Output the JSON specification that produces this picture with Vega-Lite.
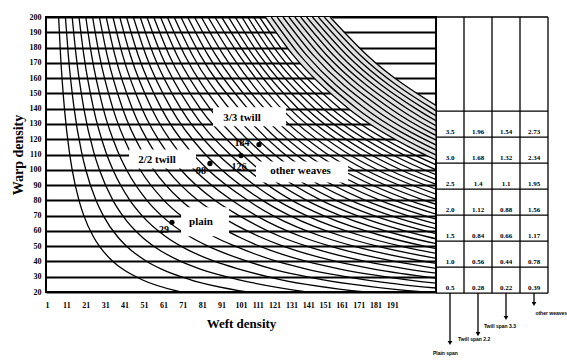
{
"$schema": "https://vega.github.io/schema/vega-lite/v6.json",
"background": "white",
"padding": {"left": 10, "top": 12, "right": 0, "bottom": 0},
"spacing": 0,
"bounds": "flush",
"config": {"view": {"stroke": null}, "font": "Liberation Serif"},
"datasets": {
"curves": [
{"m":2,"x":7,"y":200},{"m":2,"x":8,"y":175},{"m":2,"x":10,"y":140},{"m":2,"x":12.5,"y":112},{"m":2,"x":14,"y":100},{"m":2,"x":17.5,"y":80},{"m":2,"x":20,"y":70},{"m":2,"x":25,"y":56},{"m":2,"x":28,"y":50},{"m":2,"x":35,"y":40},{"m":2,"x":40,"y":35},{"m":2,"x":50,"y":28},{"m":2,"x":70,"y":20},
{"m":3,"x":10.5,"y":200},{"m":3,"x":12,"y":175},{"m":3,"x":15,"y":140},{"m":3,"x":18.75,"y":112},{"m":3,"x":21,"y":100},{"m":3,"x":26.25,"y":80},{"m":3,"x":30,"y":70},{"m":3,"x":37.5,"y":56},{"m":3,"x":42,"y":50},{"m":3,"x":52.5,"y":40},{"m":3,"x":60,"y":35},{"m":3,"x":75,"y":28},{"m":3,"x":105,"y":20},
{"m":4,"x":14,"y":200},{"m":4,"x":16,"y":175},{"m":4,"x":20,"y":140},{"m":4,"x":25,"y":112},{"m":4,"x":28,"y":100},{"m":4,"x":35,"y":80},{"m":4,"x":40,"y":70},{"m":4,"x":50,"y":56},{"m":4,"x":56,"y":50},{"m":4,"x":70,"y":40},{"m":4,"x":80,"y":35},{"m":4,"x":100,"y":28},{"m":4,"x":140,"y":20},
{"m":5,"x":17.5,"y":200},{"m":5,"x":20,"y":175},{"m":5,"x":25,"y":140},{"m":5,"x":31.25,"y":112},{"m":5,"x":35,"y":100},{"m":5,"x":43.75,"y":80},{"m":5,"x":50,"y":70},{"m":5,"x":62.5,"y":56},{"m":5,"x":70,"y":50},{"m":5,"x":87.5,"y":40},{"m":5,"x":100,"y":35},{"m":5,"x":125,"y":28},{"m":5,"x":175,"y":20},
{"m":6,"x":21,"y":200},{"m":6,"x":24,"y":175},{"m":6,"x":30,"y":140},{"m":6,"x":37.5,"y":112},{"m":6,"x":42,"y":100},{"m":6,"x":52.5,"y":80},{"m":6,"x":60,"y":70},{"m":6,"x":75,"y":56},{"m":6,"x":84,"y":50},{"m":6,"x":105,"y":40},{"m":6,"x":120,"y":35},{"m":6,"x":150,"y":28},{"m":6,"x":210,"y":20},
{"m":7,"x":24.5,"y":200},{"m":7,"x":28,"y":175},{"m":7,"x":35,"y":140},{"m":7,"x":43.75,"y":112},{"m":7,"x":49,"y":100},{"m":7,"x":61.25,"y":80},{"m":7,"x":70,"y":70},{"m":7,"x":87.5,"y":56},{"m":7,"x":98,"y":50},{"m":7,"x":122.5,"y":40},{"m":7,"x":140,"y":35},{"m":7,"x":175,"y":28},{"m":7,"x":245,"y":20},
{"m":8,"x":28,"y":200},{"m":8,"x":32,"y":175},{"m":8,"x":40,"y":140},{"m":8,"x":50,"y":112},{"m":8,"x":56,"y":100},{"m":8,"x":70,"y":80},{"m":8,"x":80,"y":70},{"m":8,"x":100,"y":56},{"m":8,"x":112,"y":50},{"m":8,"x":140,"y":40},{"m":8,"x":160,"y":35},{"m":8,"x":200,"y":28},{"m":8,"x":280,"y":20},
{"m":9,"x":31.5,"y":200},{"m":9,"x":36,"y":175},{"m":9,"x":45,"y":140},{"m":9,"x":56.25,"y":112},{"m":9,"x":63,"y":100},{"m":9,"x":78.75,"y":80},{"m":9,"x":90,"y":70},{"m":9,"x":112.5,"y":56},{"m":9,"x":126,"y":50},{"m":9,"x":157.5,"y":40},{"m":9,"x":180,"y":35},{"m":9,"x":225,"y":28},
{"m":10,"x":35,"y":200},{"m":10,"x":40,"y":175},{"m":10,"x":50,"y":140},{"m":10,"x":62.5,"y":112},{"m":10,"x":70,"y":100},{"m":10,"x":87.5,"y":80},{"m":10,"x":100,"y":70},{"m":10,"x":125,"y":56},{"m":10,"x":140,"y":50},{"m":10,"x":175,"y":40},{"m":10,"x":200,"y":35},{"m":10,"x":250,"y":28},
{"m":11,"x":38.5,"y":200},{"m":11,"x":44,"y":175},{"m":11,"x":55,"y":140},{"m":11,"x":68.75,"y":112},{"m":11,"x":77,"y":100},{"m":11,"x":96.25,"y":80},{"m":11,"x":110,"y":70},{"m":11,"x":137.5,"y":56},{"m":11,"x":154,"y":50},{"m":11,"x":192.5,"y":40},{"m":11,"x":220,"y":35},
{"m":12,"x":42,"y":200},{"m":12,"x":48,"y":175},{"m":12,"x":60,"y":140},{"m":12,"x":75,"y":112},{"m":12,"x":84,"y":100},{"m":12,"x":105,"y":80},{"m":12,"x":120,"y":70},{"m":12,"x":150,"y":56},{"m":12,"x":168,"y":50},{"m":12,"x":210,"y":40},{"m":12,"x":240,"y":35},
{"m":13,"x":45.5,"y":200},{"m":13,"x":52,"y":175},{"m":13,"x":65,"y":140},{"m":13,"x":81.25,"y":112},{"m":13,"x":91,"y":100},{"m":13,"x":113.75,"y":80},{"m":13,"x":130,"y":70},{"m":13,"x":162.5,"y":56},{"m":13,"x":182,"y":50},{"m":13,"x":227.5,"y":40},
{"m":14,"x":49,"y":200},{"m":14,"x":56,"y":175},{"m":14,"x":70,"y":140},{"m":14,"x":87.5,"y":112},{"m":14,"x":98,"y":100},{"m":14,"x":122.5,"y":80},{"m":14,"x":140,"y":70},{"m":14,"x":175,"y":56},{"m":14,"x":196,"y":50},{"m":14,"x":245,"y":40},
{"m":15,"x":52.5,"y":200},{"m":15,"x":60,"y":175},{"m":15,"x":75,"y":140},{"m":15,"x":93.75,"y":112},{"m":15,"x":105,"y":100},{"m":15,"x":131.25,"y":80},{"m":15,"x":150,"y":70},{"m":15,"x":187.5,"y":56},{"m":15,"x":210,"y":50},{"m":15,"x":262.5,"y":40},
{"m":16,"x":56,"y":200},{"m":16,"x":64,"y":175},{"m":16,"x":80,"y":140},{"m":16,"x":100,"y":112},{"m":16,"x":112,"y":100},{"m":16,"x":140,"y":80},{"m":16,"x":160,"y":70},{"m":16,"x":200,"y":56},{"m":16,"x":224,"y":50},
{"m":17,"x":59.5,"y":200},{"m":17,"x":68,"y":175},{"m":17,"x":85,"y":140},{"m":17,"x":106.25,"y":112},{"m":17,"x":119,"y":100},{"m":17,"x":148.75,"y":80},{"m":17,"x":170,"y":70},{"m":17,"x":212.5,"y":56},{"m":17,"x":238,"y":50},
{"m":18,"x":63,"y":200},{"m":18,"x":72,"y":175},{"m":18,"x":90,"y":140},{"m":18,"x":112.5,"y":112},{"m":18,"x":126,"y":100},{"m":18,"x":157.5,"y":80},{"m":18,"x":180,"y":70},{"m":18,"x":225,"y":56},
{"m":19,"x":66.5,"y":200},{"m":19,"x":76,"y":175},{"m":19,"x":95,"y":140},{"m":19,"x":118.75,"y":112},{"m":19,"x":133,"y":100},{"m":19,"x":166.25,"y":80},{"m":19,"x":190,"y":70},{"m":19,"x":237.5,"y":56},
{"m":20,"x":70,"y":200},{"m":20,"x":80,"y":175},{"m":20,"x":100,"y":140},{"m":20,"x":125,"y":112},{"m":20,"x":140,"y":100},{"m":20,"x":175,"y":80},{"m":20,"x":200,"y":70},{"m":20,"x":250,"y":56},
{"m":21,"x":73.5,"y":200},{"m":21,"x":84,"y":175},{"m":21,"x":105,"y":140},{"m":21,"x":131.25,"y":112},{"m":21,"x":147,"y":100},{"m":21,"x":183.75,"y":80},{"m":21,"x":210,"y":70},{"m":21,"x":262.5,"y":56},
{"m":22,"x":77,"y":200},{"m":22,"x":88,"y":175},{"m":22,"x":110,"y":140},{"m":22,"x":137.5,"y":112},{"m":22,"x":154,"y":100},{"m":22,"x":192.5,"y":80},{"m":22,"x":220,"y":70},
{"m":23,"x":80.5,"y":200},{"m":23,"x":92,"y":175},{"m":23,"x":115,"y":140},{"m":23,"x":143.75,"y":112},{"m":23,"x":161,"y":100},{"m":23,"x":201.25,"y":80},{"m":23,"x":230,"y":70},
{"m":24,"x":84,"y":200},{"m":24,"x":96,"y":175},{"m":24,"x":120,"y":140},{"m":24,"x":150,"y":112},{"m":24,"x":168,"y":100},{"m":24,"x":210,"y":80},{"m":24,"x":240,"y":70},
{"m":25,"x":87.5,"y":200},{"m":25,"x":100,"y":175},{"m":25,"x":125,"y":140},{"m":25,"x":156.25,"y":112},{"m":25,"x":175,"y":100},{"m":25,"x":218.75,"y":80},
{"m":26,"x":91,"y":200},{"m":26,"x":104,"y":175},{"m":26,"x":130,"y":140},{"m":26,"x":162.5,"y":112},{"m":26,"x":182,"y":100},{"m":26,"x":227.5,"y":80},
{"m":27,"x":94.5,"y":200},{"m":27,"x":108,"y":175},{"m":27,"x":135,"y":140},{"m":27,"x":168.75,"y":112},{"m":27,"x":189,"y":100},{"m":27,"x":236.25,"y":80},
{"m":28,"x":98,"y":200},{"m":28,"x":112,"y":175},{"m":28,"x":140,"y":140},{"m":28,"x":175,"y":112},{"m":28,"x":196,"y":100},{"m":28,"x":245,"y":80},
{"m":29,"x":101.5,"y":200},{"m":29,"x":116,"y":175},{"m":29,"x":145,"y":140},{"m":29,"x":181.25,"y":112},{"m":29,"x":203,"y":100},{"m":29,"x":253.75,"y":80},
{"m":30,"x":105,"y":200},{"m":30,"x":120,"y":175},{"m":30,"x":150,"y":140},{"m":30,"x":187.5,"y":112},{"m":30,"x":210,"y":100},{"m":30,"x":262.5,"y":80},
{"m":31,"x":108.5,"y":200},{"m":31,"x":124,"y":175},{"m":31,"x":155,"y":140},{"m":31,"x":193.75,"y":112},{"m":31,"x":217,"y":100},{"m":31,"x":271.25,"y":80},
{"m":32,"x":112,"y":200},{"m":32,"x":128,"y":175},{"m":32,"x":160,"y":140},{"m":32,"x":200,"y":112},{"m":32,"x":224,"y":100},
{"m":33,"x":115.5,"y":200},{"m":33,"x":132,"y":175},{"m":33,"x":165,"y":140},{"m":33,"x":206.25,"y":112},{"m":33,"x":231,"y":100},
{"m":34,"x":119,"y":200},{"m":34,"x":136,"y":175},{"m":34,"x":170,"y":140},{"m":34,"x":212.5,"y":112},{"m":34,"x":238,"y":100},
{"m":35,"x":122.5,"y":200},{"m":35,"x":140,"y":175},{"m":35,"x":175,"y":140},{"m":35,"x":218.75,"y":112},
{"m":36,"x":126,"y":200},{"m":36,"x":144,"y":175},{"m":36,"x":180,"y":140},{"m":36,"x":225,"y":112},
{"m":37,"x":129.5,"y":200},{"m":37,"x":148,"y":175},{"m":37,"x":185,"y":140},{"m":37,"x":231.25,"y":112},
{"m":38,"x":133,"y":200},{"m":38,"x":152,"y":175},{"m":38,"x":190,"y":140},{"m":38,"x":237.5,"y":112},
{"m":39,"x":136.5,"y":200},{"m":39,"x":156,"y":175},{"m":39,"x":195,"y":140},{"m":39,"x":243.75,"y":112},
{"m":40,"x":140,"y":200},{"m":40,"x":160,"y":175},{"m":40,"x":200,"y":140},{"m":40,"x":250,"y":112},
{"m":41,"x":143.5,"y":200},{"m":41,"x":164,"y":175},{"m":41,"x":205,"y":140},{"m":41,"x":256.25,"y":112},
{"m":42,"x":147,"y":200},{"m":42,"x":168,"y":175},{"m":42,"x":210,"y":140},{"m":42,"x":262.5,"y":112},
{"m":43,"x":150.5,"y":200},{"m":43,"x":172,"y":175},{"m":43,"x":215,"y":140},{"m":43,"x":268.75,"y":112},
{"m":44,"x":154,"y":200},{"m":44,"x":176,"y":175},{"m":44,"x":220,"y":140}
],
"band": [
{"x":115.5,"y":200,"y2":200},{"x":120,"y":192.5,"y2":200},{"x":125,"y":184.8,"y2":200},{"x":130,"y":177.7,"y2":200},{"x":135,"y":171.1,"y2":200},{"x":140,"y":165,"y2":200},{"x":147,"y":157.1,"y2":200},{"x":154,"y":150,"y2":200},{"x":160,"y":144.4,"y2":192.5},{"x":165,"y":140,"y2":186.7},{"x":170,"y":135.9,"y2":181.2},{"x":175,"y":132,"y2":176},{"x":182,"y":126.9,"y2":169.2},{"x":190,"y":121.6,"y2":162.1},{"x":197,"y":117.3,"y2":156.3},{"x":205,"y":112.7,"y2":150.2},{"x":211,"y":109.5,"y2":146},{"x":217,"y":106.5,"y2":141.9}
],
"boxes": [
{"x":86.6,"x2":127.8,"y":128.5,"y2":141},
{"x":43.3,"x2":77.8,"y":100.8,"y2":113.2},
{"x":109.9,"x2":164.7,"y":91.7,"y2":105.4},
{"x":70.1,"x2":94.8,"y":56.5,"y2":75.4}
],
"weaves": [
{"x":101.6,"y":134.1,"t":"3/3 twill"},
{"x":57.7,"y":106.7,"t":"2/2 twill"},
{"x":136.4,"y":98.9,"t":"other weaves"},
{"x":80.4,"y":65.6,"t":"plain"}
],
"pts": [
{"x":65.4,"y":65.6},{"x":85,"y":104.1},{"x":101,"y":109.3},{"x":111.7,"y":116.5}
],
"nums": [
{"x":61.3,"y":60.4,"t":"29"},{"x":80.4,"y":98.9,"t":"98"},{"x":100,"y":101.5,"t":"126"},{"x":101.6,"y":117.8,"t":"184"}
],
"tlines": [
{"x":0.5,"x2":0.5,"y":0,"y2":5.31},{"x":1.5,"x2":1.5,"y":0,"y2":5.31},{"x":2.5,"x2":2.5,"y":0,"y2":5.31},{"x":3.5,"x2":3.5,"y":0,"y2":5.31},{"x":4.5,"x2":4.5,"y":0,"y2":5.31},
{"x":0.5,"x2":4.5,"y":0,"y2":0},{"x":0.5,"x2":4.5,"y":0.5,"y2":0.5},{"x":0.5,"x2":4.5,"y":1,"y2":1},{"x":0.5,"x2":4.5,"y":1.5,"y2":1.5},{"x":0.5,"x2":4.5,"y":2,"y2":2},{"x":0.5,"x2":4.5,"y":2.5,"y2":2.5},{"x":0.5,"x2":4.5,"y":3,"y2":3},{"x":0.5,"x2":4.5,"y":3.5,"y2":3.5},{"x":0.5,"x2":4.5,"y":5.31,"y2":5.31},
{"x":1,"x2":1,"y":0,"y2":-0.96},{"x":2,"x2":2,"y":0,"y2":-0.79},{"x":3,"x2":3,"y":0,"y2":-0.48},{"x":4,"x2":4,"y":0,"y2":-0.21}
],
"heads": [
{"x":1,"y":-0.96},{"x":2,"y":-0.79},{"x":3,"y":-0.48},{"x":4,"y":-0.21}
],
"tvals": [
{"x":1,"y":3.5,"t":"3.5"},{"x":2,"y":3.5,"t":"1.96"},{"x":3,"y":3.5,"t":"1.54"},{"x":4,"y":3.5,"t":"2.73"},
{"x":1,"y":3,"t":"3.0"},{"x":2,"y":3,"t":"1.68"},{"x":3,"y":3,"t":"1.32"},{"x":4,"y":3,"t":"2.34"},
{"x":1,"y":2.5,"t":"2.5"},{"x":2,"y":2.5,"t":"1.4"},{"x":3,"y":2.5,"t":"1.1"},{"x":4,"y":2.5,"t":"1.95"},
{"x":1,"y":2,"t":"2.0"},{"x":2,"y":2,"t":"1.12"},{"x":3,"y":2,"t":"0.88"},{"x":4,"y":2,"t":"1.56"},
{"x":1,"y":1.5,"t":"1.5"},{"x":2,"y":1.5,"t":"0.84"},{"x":3,"y":1.5,"t":"0.66"},{"x":4,"y":1.5,"t":"1.17"},
{"x":1,"y":1,"t":"1.0"},{"x":2,"y":1,"t":"0.56"},{"x":3,"y":1,"t":"0.44"},{"x":4,"y":1,"t":"0.78"},
{"x":1,"y":0.5,"t":"0.5"},{"x":2,"y":0.5,"t":"0.28"},{"x":3,"y":0.5,"t":"0.22"},{"x":4,"y":0.5,"t":"0.39"}
],
"alabels": [
{"x":0.39,"y":-1.15,"t":"Plain span"},
{"x":1.29,"y":-0.88,"t":"Twill span 2.2"},
{"x":2.21,"y":-0.63,"t":"Twill span 3.3"},
{"x":4.05,"y":-0.38,"t":"other weaves"}
]
},
"hconcat": [
{
"width": 390, "height": 275,
"view": {"stroke": "black", "strokeWidth": 2},
"encoding": {
"x": {"field": "x", "type": "quantitative",
"scale": {"domain": [0.5, 101, 217], "range": [0, 195, 390], "nice": false, "zero": false},
"axis": {"values": [1,11,21,31,41,51,61,71,81,91,101,111,121,131,141,151,161,171,181,191],
"ticks": false, "domain": false, "grid": false, "labelFlush": false, "labelOverlap": false,
"labelFont": "Liberation Serif", "labelFontWeight": "bold", "labelFontSize": 8, "labelColor": "black", "labelPadding": 9,
"title": "Weft density", "titleFont": "Liberation Serif", "titleFontWeight": "bold", "titleFontSize": 13, "titleColor": "black", "titlePadding": 8}},
"y": {"field": "y", "type": "quantitative",
"scale": {"domain": [20, 200], "nice": false, "zero": false},
"axis": {"values": [20,30,40,50,60,70,80,90,100,110,120,130,140,150,160,170,180,190,200],
"ticks": false, "domain": false, "grid": true, "gridColor": "black", "gridWidth": 1.8, "gridOpacity": 1,
"labelFlush": false, "labelOverlap": false,
"labelFont": "Liberation Serif", "labelFontWeight": "bold", "labelFontSize": 8, "labelColor": "black", "labelPadding": 5,
"title": "Warp density", "titleFont": "Liberation Serif", "titleFontWeight": "bold", "titleFontSize": 14, "titleColor": "black", "titlePadding": 4}}
},
"layer": [
{"data": {"name": "band"}, "mark": {"type": "area", "interpolate": "monotone", "fill": "#e2e2e2", "clip": true},
"encoding": {"y2": {"field": "y2"}}},
{"data": {"name": "curves"}, "mark": {"type": "line", "interpolate": "monotone", "stroke": "black", "strokeWidth": 1.3, "clip": true},
"encoding": {"detail": {"field": "m", "type": "nominal"}}},
{"data": {"name": "boxes"}, "mark": {"type": "rect", "fill": "white", "stroke": null, "clip": true},
"encoding": {"x2": {"field": "x2"}, "y2": {"field": "y2"}}},
{"data": {"name": "weaves"}, "mark": {"type": "text", "font": "Liberation Serif", "fontWeight": "bold", "fontSize": 11, "color": "black", "align": "center", "baseline": "middle"},
"encoding": {"text": {"field": "t"}}},
{"data": {"name": "pts"}, "mark": {"type": "point", "filled": true, "shape": "circle", "size": 28, "color": "black", "opacity": 1},
"encoding": {}},
{"data": {"name": "nums"}, "mark": {"type": "text", "font": "Liberation Serif", "fontWeight": "bold", "fontSize": 10, "color": "black", "align": "center", "baseline": "middle"},
"encoding": {"text": {"field": "t"}}}
]
},
{
"width": 112, "height": 340,
"encoding": {
"x": {"field": "x", "type": "quantitative", "scale": {"domain": [0.5, 4.5], "nice": false, "zero": false}, "axis": null},
"y": {"field": "y", "type": "quantitative", "scale": {"domain": [-1.23, 5.31], "nice": false, "zero": false}, "axis": null}
},
"layer": [
{"data": {"name": "tlines"}, "mark": {"type": "rule", "color": "black", "strokeWidth": 1.3},
"encoding": {"x2": {"field": "x2"}, "y2": {"field": "y2"}}},
{"data": {"name": "heads"}, "mark": {"type": "point", "shape": "triangle-down", "filled": true, "size": 22, "color": "black", "opacity": 1},
"encoding": {}},
{"data": {"name": "tvals"}, "mark": {"type": "text", "font": "Liberation Serif", "fontWeight": "bold", "fontSize": 7, "color": "black", "align": "center", "baseline": "alphabetic", "dy": 23},
"encoding": {"text": {"field": "t"}}},
{"data": {"name": "alabels"}, "mark": {"type": "text", "font": "Liberation Sans", "fontWeight": "bold", "fontSize": 5, "color": "black", "align": "left", "baseline": "middle"},
"encoding": {"text": {"field": "t"}}}
]
}
]
}
